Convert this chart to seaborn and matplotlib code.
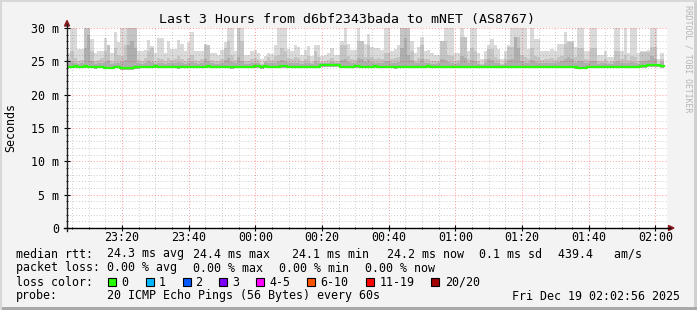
import numpy as np
import matplotlib
matplotlib.use("Agg")
import matplotlib.pyplot as plt
import seaborn as sns
from matplotlib.patches import Rectangle, Polygon

# ---------------- data (minutes after 23:00, one sample per minute) ----------------
start_min = 3.5
top_ms = [26.2, 30, 30, 26.8, 26.8, 30, 30, 28.4, 26.3, 26.5,
          26.5, 28.5, 27.4, 26.3, 29.4, 27.9, 30, 30, 30, 30,
          30, 26.5, 26.5, 26.7, 28.2, 27.3, 26.3, 28.5, 28.5, 26.3,
          28.0, 26.9, 26.9, 28.2, 27.6, 26.5, 27.9, 29.4, 26.5, 26.5,
          26.5, 27.6, 27, 26.3, 26.3, 26.0, 26.7, 27.9, 30, 30,
          26.6, 30, 30, 26.0, 26.0, 26.5, 26.7, 26.2, 25.3, 25.8,
          26.3, 26.1, 27.4, 30, 30, 30, 26.9, 26.5, 27.4, 27.1,
          26.0, 26.7, 27.3, 25.8, 27.4, 27.4, 25.8, 26.0, 26.2, 27,
          26.0, 26.0, 28.1, 30, 27.6, 26.7, 26.7, 30, 28.1, 27.6,
          29.1, 27.2, 27, 27, 26.7, 30, 30, 26.6, 26.9, 27.4,
          30, 30, 30, 28.1, 26.2, 27.2, 28.6, 26.6, 26.7, 26.2,
          26.0, 26.0, 28.1, 30, 30, 30, 26.2, 26.2, 30, 28.6,
          26.5, 30, 30, 26.2, 25.3, 26.5, 27.5, 28.4, 27.4, 26.9,
          25.3, 26.5, 27.5, 30, 30, 30, 30, 30, 26.9, 30,
          28.4, 28.4, 26.5, 26.6, 26.6, 26.9, 26.5, 27.6, 27.6, 29.4,
          28.1, 28.1, 27.2, 30, 30, 26.5, 26.5, 30, 30, 25.9,
          25.9, 26.5, 25.7, 25.7, 30, 30, 26.5, 30, 26.3, 30,
          30, 26.2, 26.5, 26.5, 26.7, 30, 30, 25.3, 26.3]
mid_ms = [25.3, 26.5, 25.5, 25.0, 25.2, 30, 30, 26.5, 25.0, 25.2,
          25.5, 26.5, 27.4, 25.0, 27.0, 26.0, 25.8, 27.5, 30, 30,
          30, 25.2, 25.0, 25.5, 26.5, 27.0, 25.0, 25.5, 25.3, 25.0,
          25.5, 25.2, 25.3, 25.8, 25.4, 25.0, 25.5, 26.0, 25.2, 25.0,
          25.3, 27.5, 27.4, 25.2, 25.0, 25.0, 25.4, 27.0, 28.0, 26.0,
          25.2, 30, 28.0, 25.0, 25.1, 25.3, 25.5, 25.2, 24.6, 25.0,
          25.6, 25.2, 25.8, 26.0, 27.0, 26.5, 25.5, 25.3, 25.6, 25.5,
          25.0, 25.4, 25.8, 24.9, 26.5, 25.6, 24.9, 25.1, 25.2, 25.5,
          25.0, 25.1, 27.5, 27.5, 25.8, 25.3, 25.2, 28.0, 28.0, 25.6,
          27.5, 25.6, 25.4, 25.5, 25.3, 26.2, 26.2, 25.3, 25.5, 25.6,
          30, 30, 30, 26.5, 25.1, 25.5, 27.5, 25.3, 25.4, 25.1,
          25.0, 25.1, 28.0, 28.0, 26.0, 25.8, 25.1, 25.2, 28.6, 28.6,
          25.4, 27.0, 26.5, 25.1, 24.6, 25.3, 26.9, 26.9, 25.6, 25.4,
          24.6, 25.3, 27.2, 27.2, 28.6, 28.6, 26.0, 25.6, 25.4, 27.0,
          25.8, 25.6, 25.2, 25.3, 25.4, 25.5, 25.2, 25.6, 25.8, 27.6,
          27.9, 27.9, 25.6, 27.0, 27.0, 25.3, 25.2, 27.0, 27.0, 25.0,
          25.1, 25.3, 24.9, 25.0, 26.5, 26.5, 25.3, 26.0, 25.2, 25.8,
          25.6, 25.1, 26.4, 26.4, 26.4, 27.2, 27.2, 24.6, 25.4]
dark_ms = [24.8, 24.9, 24.7, 24.6, 24.7, 27.0, 29.0, 25.0, 24.6, 24.7,
           24.8, 24.9, 25.2, 24.6, 24.8, 24.7, 24.9, 25.2, 27.5, 28.0,
           27.0, 24.7, 24.6, 24.8, 25.0, 24.9, 24.6, 24.8, 24.7, 24.6,
           24.8, 24.7, 24.7, 24.9, 24.8, 24.6, 24.8, 24.9, 24.7, 24.6,
           24.7, 25.3, 25.0, 24.7, 24.6, 24.6, 24.8, 25.2, 25.5, 24.9,
           24.7, 25.6, 25.0, 24.6, 24.6, 24.7, 24.8, 24.7, 24.5, 24.9,
           24.8, 24.7, 24.8, 25.0, 25.2, 25.0, 24.8, 24.7, 24.8, 24.8,
           24.6, 24.7, 24.8, 24.6, 25.0, 24.8, 24.7, 24.8, 24.8, 24.9,
           24.7, 24.7, 25.2, 25.4, 24.9, 24.7, 24.8, 25.5, 25.3, 24.9,
           25.4, 24.9, 24.8, 24.8, 24.7, 25.0, 25.1, 24.7, 24.8, 24.9,
           27.0, 28.5, 26.0, 25.2, 24.7, 24.8, 25.3, 24.7, 24.8, 24.6,
           24.6, 24.7, 25.4, 25.2, 24.9, 24.8, 24.6, 24.7, 25.8, 25.5,
           24.8, 25.2, 25.0, 24.6, 24.5, 24.7, 25.3, 25.2, 24.8, 24.7,
           24.5, 24.7, 25.2, 25.4, 28.6, 27.0, 25.0, 24.8, 24.7, 25.2,
           24.9, 24.8, 24.7, 24.7, 24.8, 24.8, 24.7, 24.9, 25.0, 25.4,
           25.6, 25.3, 24.8, 25.0, 25.0, 24.7, 24.7, 25.0, 25.1, 24.6,
           24.7, 24.7, 24.6, 24.6, 24.9, 25.0, 24.7, 24.8, 24.7, 24.9,
           24.8, 24.6, 25.0, 25.0, 25.2, 25.8, 25.4, 24.5, 24.9]
low_ms = [23.95, 23.95, 23.95, 23.95, 23.95, 23.95, 23.95, 23.95, 23.9, 23.95,
          23.95, 23.8, 23.8, 23.8, 23.95, 23.95, 23.75, 23.75, 23.75, 23.75,
          23.9, 23.9, 23.95, 23.95, 23.95, 23.95, 23.95, 23.95, 23.95, 23.95,
          23.95, 23.95, 23.95, 23.9, 23.95, 23.95, 23.95, 23.95, 23.95, 23.95,
          23.95, 23.95, 23.95, 23.95, 23.95, 23.95, 23.95, 23.95, 23.95, 23.9,
          23.95, 23.95, 23.95, 23.95, 23.95, 23.95, 24.0, 24.0, 23.85, 24.0,
          23.95, 23.95, 23.95, 23.95, 23.95, 23.95, 23.95, 23.95, 23.95, 23.95,
          23.95, 23.95, 23.95, 23.95, 23.95, 23.95, 24.1, 24.1, 24.1, 24.1,
          24.1, 24.1, 23.95, 23.95, 23.95, 23.95, 23.95, 23.95, 23.95, 23.95,
          23.95, 23.95, 23.95, 23.95, 23.95, 23.95, 23.95, 23.95, 23.9, 23.95,
          23.95, 23.95, 23.95, 23.95, 23.95, 23.95, 23.95, 23.95, 23.95, 23.95,
          23.95, 23.95, 23.95, 23.95, 23.95, 23.95, 23.95, 23.95, 23.95, 23.95,
          23.95, 23.95, 23.95, 23.95, 23.95, 23.95, 23.95, 23.95, 23.95, 23.95,
          23.95, 23.95, 23.95, 23.95, 23.95, 23.95, 23.95, 23.95, 23.95, 23.95,
          23.95, 23.95, 23.95, 23.95, 23.95, 23.95, 23.95, 23.95, 23.95, 23.95,
          23.95, 23.95, 23.9, 23.8, 23.8, 23.8, 23.95, 23.95, 23.95, 23.95,
          23.95, 23.95, 23.95, 23.95, 23.95, 23.95, 23.95, 23.95, 23.95, 23.95,
          23.95, 23.95, 24.0, 24.05, 24.1, 24.1, 24.1, 24.1, 24.05]
median_ms = [24.2, 24.2, 24.25, 24.2, 24.2, 24.25, 24.2, 24.2, 24.15, 24.2,
             24.2, 24.05, 24.05, 24.05, 24.2, 24.2, 24.0, 24.0, 24.0, 24.0,
             24.15, 24.15, 24.2, 24.2, 24.2, 24.2, 24.25, 24.2, 24.2, 24.2,
             24.2, 24.2, 24.2, 24.15, 24.2, 24.2, 24.2, 24.2, 24.2, 24.2,
             24.2, 24.2, 24.25, 24.2, 24.2, 24.2, 24.2, 24.2, 24.2, 24.15,
             24.2, 24.2, 24.2, 24.2, 24.2, 24.2, 24.25, 24.25, 24.1, 24.25,
             24.2, 24.2, 24.2, 24.2, 24.25, 24.25, 24.2, 24.2, 24.2, 24.2,
             24.2, 24.2, 24.2, 24.2, 24.2, 24.2, 24.4, 24.4, 24.4, 24.4,
             24.4, 24.4, 24.2, 24.2, 24.2, 24.2, 24.25, 24.25, 24.2, 24.2,
             24.2, 24.2, 24.25, 24.2, 24.2, 24.2, 24.2, 24.2, 24.15, 24.2,
             24.2, 24.2, 24.2, 24.2, 24.2, 24.2, 24.2, 24.2, 24.25, 24.2,
             24.2, 24.2, 24.2, 24.2, 24.2, 24.2, 24.2, 24.2, 24.2, 24.2,
             24.2, 24.2, 24.2, 24.2, 24.2, 24.2, 24.2, 24.2, 24.2, 24.2,
             24.2, 24.2, 24.2, 24.2, 24.2, 24.2, 24.2, 24.2, 24.2, 24.2,
             24.2, 24.2, 24.2, 24.2, 24.2, 24.2, 24.2, 24.2, 24.2, 24.2,
             24.2, 24.2, 24.15, 24.05, 24.05, 24.05, 24.2, 24.2, 24.2, 24.2,
             24.2, 24.2, 24.2, 24.2, 24.2, 24.2, 24.2, 24.2, 24.2, 24.2,
             24.2, 24.2, 24.25, 24.3, 24.4, 24.4, 24.4, 24.4, 24.3]

x_tick_minutes = [20, 40, 60, 80, 100, 120, 140, 160, 180]
x_tick_labels = ["23:20", "23:40", "00:00", "00:20", "00:40", "01:00", "01:20", "01:40", "02:00"]
y_ticks = [0, 5, 10, 15, 20, 25, 30]
y_tick_labels = ["0", "5 m", "10 m", "15 m", "20 m", "25 m", "30 m"]

title = "Last 3 Hours from d6bf2343bada to mNET (AS8767)"
loss_labels = ["0", "1", "2", "3", "4-5", "6-10", "11-19", "20/20"]
loss_colors = ["#26ff00", "#00b8ff", "#0059ff", "#7e00ff", "#ff00ff", "#ff5500", "#ff0000", "#a10000"]

# ---------------- figure ----------------
W, H = 697, 310
plt.rcParams["font.family"] = ["DejaVu Sans Mono"]
fig = plt.figure(figsize=(W / 100, H / 100), dpi=100, facecolor="#f3f3f3")


def fx(x):
    return x / W


def fy(y):
    return 1 - y / H


ax = fig.add_axes([fx(67), fy(228), 600 / W, 200 / H])
ax.set_facecolor("white")

n = len(median_ms)
t = start_min + np.arange(n)
xs = np.append(t, t[-1] + 1)


def ext(a):
    a = list(a)
    return np.array(a + [a[-1]])


ax.fill_between(xs, ext(low_ms), ext(top_ms), step="post", color="#dadada", lw=0, zorder=1)
ax.fill_between(xs, ext(low_ms), ext(mid_ms), step="post", color="#c4c4c4", lw=0, zorder=1.1)
ax.fill_between(xs, ext(low_ms), ext(dark_ms), step="post", color="#aeaeae", lw=0, zorder=1.2)

sns.lineplot(x=xs, y=ext(median_ms), ax=ax, drawstyle="steps-post", color="#26ff00",
             lw=1.6, estimator=None, sort=False, zorder=3)

ax.set_xlim(3.5, 183.5)
ax.set_ylim(0, 30)

ax.set_xticks(x_tick_minutes)
ax.set_xticklabels(x_tick_labels)
ax.set_xticks([m for m in range(5, 184, 5) if m % 20 != 0], minor=True)
ax.set_yticks(y_ticks)
ax.set_yticklabels(y_tick_labels)
ax.set_yticks([v for v in range(1, 30) if v % 5 != 0], minor=True)

ax.grid(which="minor", color="#808080", alpha=0.4, ls=(0, (1, 2)), lw=0.7)
ax.grid(which="major", color="#ff0000", alpha=0.4, ls=(0, (1, 2)), lw=0.7)
ax.set_axisbelow(False)

for s in ax.spines.values():
    s.set_visible(False)

ax.tick_params(axis="both", which="major", direction="inout", length=4, width=0.8,
               color="#000000", labelsize=8.35, labelcolor="#000000")
ax.tick_params(axis="both", which="minor", direction="inout", length=2, width=0.6, color="#000000")
ax.tick_params(axis="x", which="major", pad=0.5)
ax.tick_params(axis="y", which="major", pad=3.5)
ax.set_xlabel("")
ax.set_ylabel("")

# axis lines with arrows
fig.add_artist(plt.Line2D([fx(67), fx(67)], [fy(231), fy(24)], color="#202020", lw=1.0,
                          transform=fig.transFigure))
fig.add_artist(plt.Line2D([fx(64), fx(670)], [fy(228), fy(228)], color="#000000", lw=1.0,
                          transform=fig.transFigure))
fig.add_artist(Polygon([[fx(64.5), fy(26)], [fx(69.5), fy(26)], [fx(67), fy(20.5)]],
                       closed=True, color="#8b1a1a", transform=fig.transFigure))
fig.add_artist(Polygon([[fx(668.5), fy(225.5)], [fx(668.5), fy(230.5)], [fx(674), fy(228)]],
                       closed=True, color="#8b1a1a", transform=fig.transFigure))

# frame
fig.add_artist(Rectangle((fx(694), 0), 3 / W, 1, color="#cfcfcf", transform=fig.transFigure, lw=0))
fig.add_artist(Rectangle((0, 0), 1, 3 / H, color="#a8a8a8", transform=fig.transFigure, lw=0))
fig.add_artist(Rectangle((0, fy(2)), 1, 2 / H, color="#d8d8d8", transform=fig.transFigure, lw=0))
fig.add_artist(Rectangle((0, 0), 2 / W, 1, color="#d8d8d8", transform=fig.transFigure, lw=0))

# texts
fs = 8.35
fig.text(fx(347), fy(19), title, ha="center", va="center", fontsize=9.5, color="#000000")
fig.text(fx(11), fy(128), "Seconds", rotation=90, ha="center", va="center", fontsize=fs)
fig.text(fx(688), fy(5), "RRDTOOL / TOBI OETIKER", rotation=270, ha="center", va="top",
         fontsize=5.9, color="#b4b4b4")

row1 = [(16, "median rtt:"), (107, "24.3 ms avg"), (193, "24.4 ms max"), (292, "24.1 ms min"),
        (387, "24.2 ms now"), (479, "0.1 ms sd"), (558, "439.4   am/s")]
row2 = [(16, "packet loss:"), (107, "0.00 % avg"), (193, "0.00 % max"), (279, "0.00 % min"),
        (365, "0.00 % now")]
for x, s in row1:
    fig.text(fx(x), fy(254), s, ha="left", va="center", fontsize=fs)
for x, s in row2:
    fig.text(fx(x), fy(268), s, ha="left", va="center", fontsize=fs)

fig.text(fx(16), fy(282), "loss color:", ha="left", va="center", fontsize=fs)
box_x = [108, 145.5, 182.5, 219, 256, 307, 365.5, 430.5]
lab_x = [121, 158.5, 195.5, 232, 269, 320, 380, 445]
for bx, lx, c, lab in zip(box_x, lab_x, loss_colors, loss_labels):
    fig.add_artist(Rectangle((fx(bx), fy(286)), 8 / W, 8 / H, facecolor=c, edgecolor="#000000",
                             lw=0.8, transform=fig.transFigure))
    fig.text(fx(lx), fy(282), lab, ha="left", va="center", fontsize=fs)

fig.text(fx(16), fy(296), "probe:", ha="left", va="center", fontsize=fs)
fig.text(fx(107), fy(296), "20 ICMP Echo Pings (56 Bytes) every 60s", ha="left", va="center", fontsize=fs)
fig.text(fx(680), fy(296), "Fri Dec 19 02:02:56 2025", ha="right", va="center", fontsize=fs)

fig.savefig("out.png", dpi=100, facecolor=fig.get_facecolor())
